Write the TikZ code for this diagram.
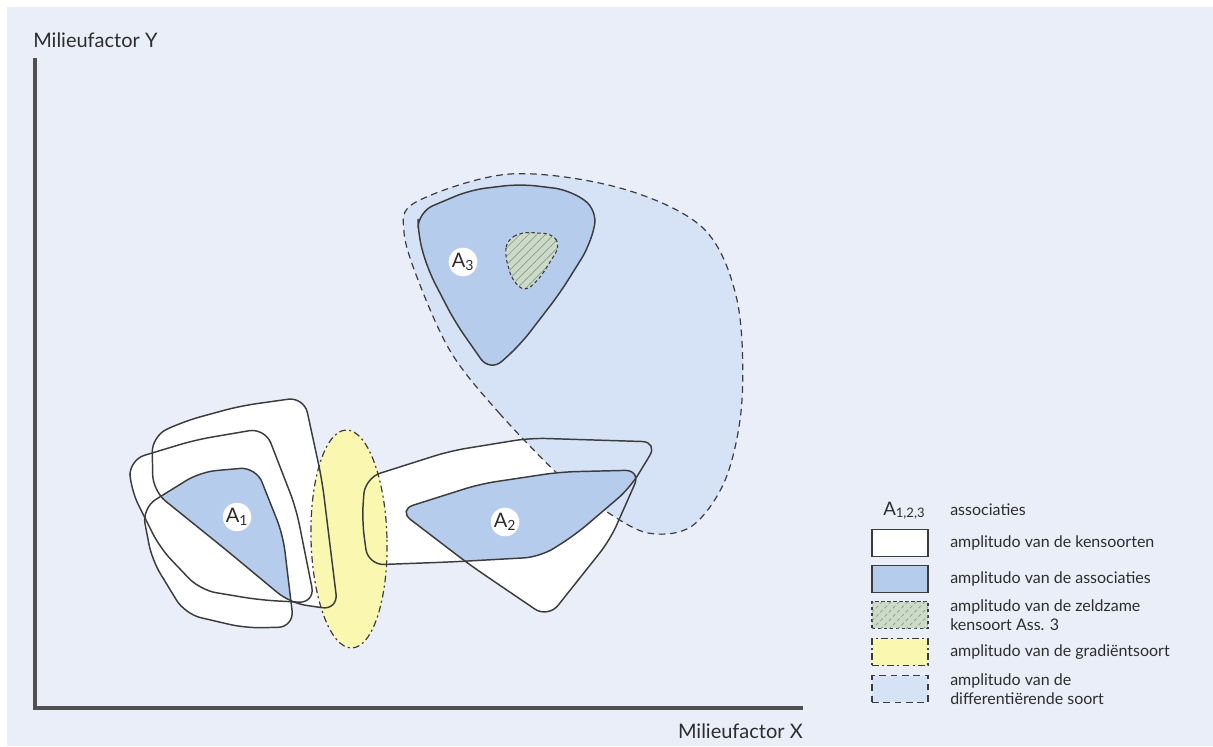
\documentclass[tikz,border=0pt]{standalone}
\usepackage{fontspec}
\setmainfont{Lato}
\usetikzlibrary{patterns.meta}
\definecolor{bgC}{RGB}{233,238,248}
\definecolor{dC}{RGB}{214,226,245}
\definecolor{aC}{RGB}{182,204,236}
\definecolor{yC}{RGB}{250,247,176}
\definecolor{gC}{RGB}{203,219,200}
\definecolor{hC}{RGB}{140,152,140}
\definecolor{lnC}{RGB}{60,60,62}
\definecolor{axC}{RGB}{80,80,82}
\definecolor{txC}{RGB}{45,45,48}
\def\shpA{(152,436) -- (185,421) -- (240,406) -- (304,397) -- (322,480) -- (338,610) -- (290,603) -- (225,549) -- (153,491) -- cycle}
\def\shpB{(129,460) -- (195,440) -- (265,428) -- (296,508) -- (315,603) -- (260,600) -- (200,590) -- (160,548) -- (131,490) -- cycle}
\def\shpC{(142,508) -- (200,472) -- (256,467) -- (283,535) -- (294,627) -- (245,628) -- (185,614) -- (152,560) -- cycle}
\def\shpE{(365,478) -- (450,451) -- (530,438) -- (658,442) -- (630,488) -- (575,535) -- (540,557) -- (450,562) -- (368,565) -- (362,520) -- cycle}
\def\shpF{(398,510) -- (480,484) -- (560,472) -- (641,470) -- (610,540) -- (548,618) -- (470,565) -- cycle}
\def\shpD{plot[smooth cycle, tension=0.55] coordinates {(562,478) (500,414) (452,354) (420,285) (404,232) (416,202) (510,174) (620,188) (703,228) (737,300) (742,400) (726,478) (692,526) (648,533) (604,510)}}
\def\shpT{(418,212) -- (470,190) -- (520,184) -- (570,190) -- (598,210) -- (590,245) -- (560,293) -- (520,345) -- (490,372) -- (455,322) -- (428,270) -- (418,235) -- cycle}
\def\shpG{(507,240) -- (522,232) -- (553,234) -- (560,246) -- (540,278) -- (525,292) -- (512,280) -- (505,255) -- cycle}
\begin{document}
\begin{tikzpicture}[x=0.75pt,y=-0.75pt,
  outl/.style={draw=lnC, line width=1.1pt, rounded corners=12},
  dsh/.style={draw=lnC, line width=0.9pt, dash pattern=on 5pt off 3.5pt},
  ddot/.style={draw=lnC, line width=0.9pt, dash pattern=on 5pt off 2.5pt on 1.5pt off 2.5pt},
  dfine/.style={draw=lnC, line width=0.8pt, dash pattern=on 2.5pt off 2pt},
  hatch/.style={pattern={Lines[angle=45,distance=4.5pt,line width=0.5pt]}, pattern color=hC},
  axis/.style={draw=axC, line width=2.6pt, line join=miter},
  albl/.style={circle, fill=white, minimum size=20pt, inner sep=0pt, text=txC, font=\fontsize{15}{15}\selectfont},
  lbox/.style={minimum width=42pt, minimum height=20pt, inner sep=0pt},
  ltxt/.style={anchor=west, inner sep=0pt, text=txC, align=left, font=\fontsize{12}{14.5}\selectfont},
  axl/.style={inner sep=0pt, text=txC, font=\fontsize{15}{15}\selectfont}]
\path[use as bounding box] (0,0) rectangle (1213,746);
\fill[white] (0,0) rectangle (1213,746);
\fill[bgC] (7,7) rectangle (1213,746);
% white amplitudes of character species
\fill[white, rounded corners=12] \shpA;
\fill[white, rounded corners=12] \shpB;
\fill[white, rounded corners=12] \shpC;
\fill[white, rounded corners=12] \shpE;
\fill[white, rounded corners=12] \shpF;
% differentiating species
\fill[dC] \shpD;
\draw[dsh] \shpD;
% gradient species
\fill[yC, rotate around={1.5:(349,539)}] (349,539) ellipse [x radius=28.5pt, y radius=81.75pt];
\draw[ddot, rotate around={1.5:(349,539)}] (349,539) ellipse [x radius=28.5pt, y radius=81.75pt];
% associations
\fill[aC, rounded corners=12] \shpT;
\begin{scope}[rounded corners=12]
  \clip \shpA; \clip \shpC; \fill[aC] \shpC;
\end{scope}
\begin{scope}[rounded corners=12]
  \clip \shpE; \clip \shpF; \fill[aC] \shpF;
\end{scope}
% rare character species
\fill[gC, rounded corners=6] \shpG;
\fill[hatch, rounded corners=6] \shpG;
\draw[dfine, rounded corners=6] \shpG;
% outlines
\draw[outl] \shpA;
\draw[outl] \shpB;
\draw[outl] \shpC;
\draw[outl] \shpE;
\draw[outl] \shpF;
\draw[outl] \shpT;
% labels
\node[albl] (a1) at (237,517) {A\textsubscript{1}};
\node[albl] (a2) at (505,522) {A\textsubscript{2}};
\node[albl] (a3) at (463,262) {A\textsubscript{3}};
% axes
\coordinate (ytop) at (35,58);
\coordinate (orig) at (35,708);
\coordinate (xend) at (803,708);
\draw[axis] (ytop) -- (orig) -- (xend);
\node[axl, anchor=base west] (ylab) at (33,47) {Milieufactor Y};
\node[axl, anchor=base east] (xlab) at (803,738) {Milieufactor X};
% legend
\node[inner sep=0pt, anchor=base west, text=txC, font=\fontsize{14}{14}\selectfont] (lga) at (883,515) {A\textsubscript{1,2,3}};
\node[ltxt, anchor=base west] (lta) at (950,515) {associaties};
\node[lbox, fill=white, draw=lnC, line width=0.9pt] (b1) at (900,543) {};
\node[ltxt] (t1) at (950,543) {amplitudo van de kensoorten};
\node[lbox, fill=aC, draw=lnC, line width=0.9pt] (b2) at (900,579) {};
\node[ltxt] (t2) at (950,579) {amplitudo van de associaties};
\node[lbox, fill=gC, postaction={hatch}, dfine] (b3) at (900,615) {};
\node[ltxt] (t3) at (950,615) {amplitudo van de zeldzame\\kensoort Ass. 3};
\node[lbox, fill=yC, ddot] (b4) at (900,652) {};
\node[ltxt] (t4) at (950,652) {amplitudo van de gradiëntsoort};
\node[lbox, fill=dC, dsh] (b5) at (900,689) {};
\node[ltxt] (t5) at (950,689) {amplitudo van de\\differentiërende soort};
\end{tikzpicture}
\end{document}
